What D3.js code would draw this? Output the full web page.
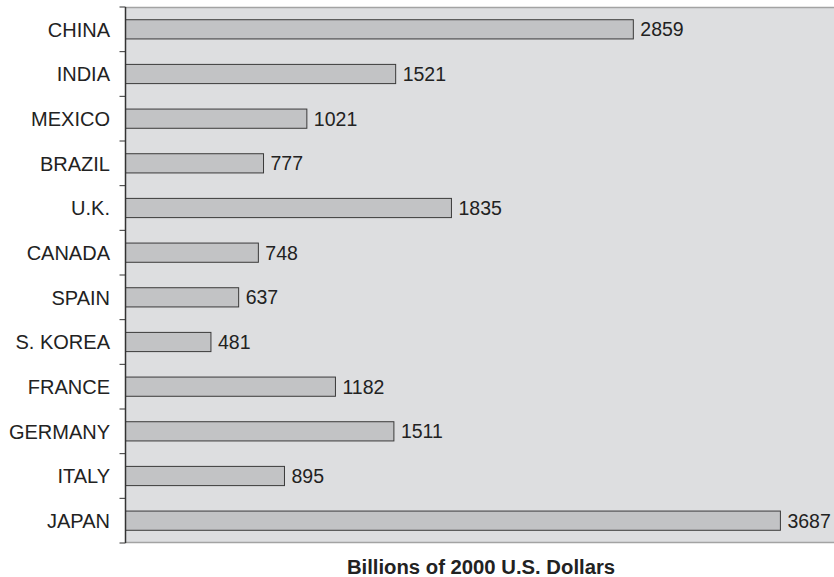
<!DOCTYPE html>
<html>
<head>
<meta charset="utf-8">
<script src="https://cdn.jsdelivr.net/npm/d3@7"></script>
<style>
  body { margin: 0; background: #fff; }
  svg { display: block; font-family: "Liberation Sans", Arial, sans-serif; }
</style>
</head>
<body>
<div id="chart"></div>
<script>
// countries, top to bottom
const countries = ["CHINA", "INDIA", "MEXICO", "BRAZIL", "U.K.", "CANADA", "SPAIN",
  "S. KOREA", "FRANCE", "GERMANY", "ITALY", "JAPAN"];
const values = [2859, 1521, 1021, 777, 1835, 748, 637, 481, 1182, 1511, 895, 3687];
const axisTitle = "Billions of 2000 U.S. Dollars";

const W = 834, H = 577;
const margin = {top: 7, right: -2, bottom: 34, left: 125.5};
const width = W - margin.left - margin.right,
  height = H - margin.top - margin.bottom;

const svg = d3.select("#chart")
  .append("svg")
  .attr("width", W)
  .attr("height", H);

const g = svg.append("g")
  .attr("transform", "translate(" + margin.left + "," + margin.top + ")");

const x = d3.scaleLinear().domain([0, 4000]).range([0, width]);
const y = d3.scaleBand().domain(countries).range([0, height]).paddingInner(0.57).paddingOuter(0.285);

// plot background
g.append("rect")
  .attr("x", 0).attr("y", 0)
  .attr("width", width).attr("height", height)
  .attr("fill", "#dddee0");

// top and bottom border lines
g.append("line")
  .attr("x1", 0).attr("x2", width).attr("y1", 0.5).attr("y2", 0.5)
  .attr("stroke", "#a3a3a3").attr("stroke-width", 1.5);
g.append("line")
  .attr("x1", 0).attr("x2", width).attr("y1", height - 0.5).attr("y2", height - 0.5)
  .attr("stroke", "#a3a3a3").attr("stroke-width", 1.5);

// bars
g.selectAll(".bar")
  .data(countries)
  .join("rect")
  .attr("class", "bar")
  .attr("x", 0)
  .attr("y", d => y(d))
  .attr("width", (d, i) => x(values[i]))
  .attr("height", y.bandwidth())
  .attr("fill", "#c2c3c5")
  .attr("stroke", "#3a3a3a")
  .attr("stroke-width", 1);

// value labels
g.selectAll(".val")
  .data(countries)
  .join("text")
  .attr("class", "val")
  .attr("x", (d, i) => x(values[i]) + 7)
  .attr("y", d => y(d) + y.bandwidth() / 2)
  .attr("dy", "0.36em")
  .attr("font-size", 19.5)
  .attr("fill", "#222")
  .text((d, i) => values[i]);

// left axis: ticks between categories
const step = height / countries.length;
const tickYs = d3.range(countries.length + 1).map(i => i * step);
g.selectAll(".tick")
  .data(tickYs)
  .join("line")
  .attr("x1", -6).attr("x2", 0)
  .attr("y1", d => d).attr("y2", d => d)
  .attr("stroke", "#333").attr("stroke-width", 1);
g.append("line")
  .attr("x1", 0).attr("x2", 0).attr("y1", 0).attr("y2", height)
  .attr("stroke", "#333").attr("stroke-width", 1.5);

// category labels
g.selectAll(".cat")
  .data(countries)
  .join("text")
  .attr("class", "cat")
  .attr("x", -15.5)
  .attr("y", d => y(d) + y.bandwidth() / 2)
  .attr("dy", "0.36em")
  .attr("text-anchor", "end")
  .attr("font-size", 20)
  .attr("fill", "#222")
  .text(d => d);

// axis title
svg.append("text")
  .attr("x", 481)
  .attr("y", 574)
  .attr("text-anchor", "middle")
  .attr("font-size", 20.3)
  .attr("font-weight", "bold")
  .attr("fill", "#222")
  .text(axisTitle);
</script>
</body>
</html>
